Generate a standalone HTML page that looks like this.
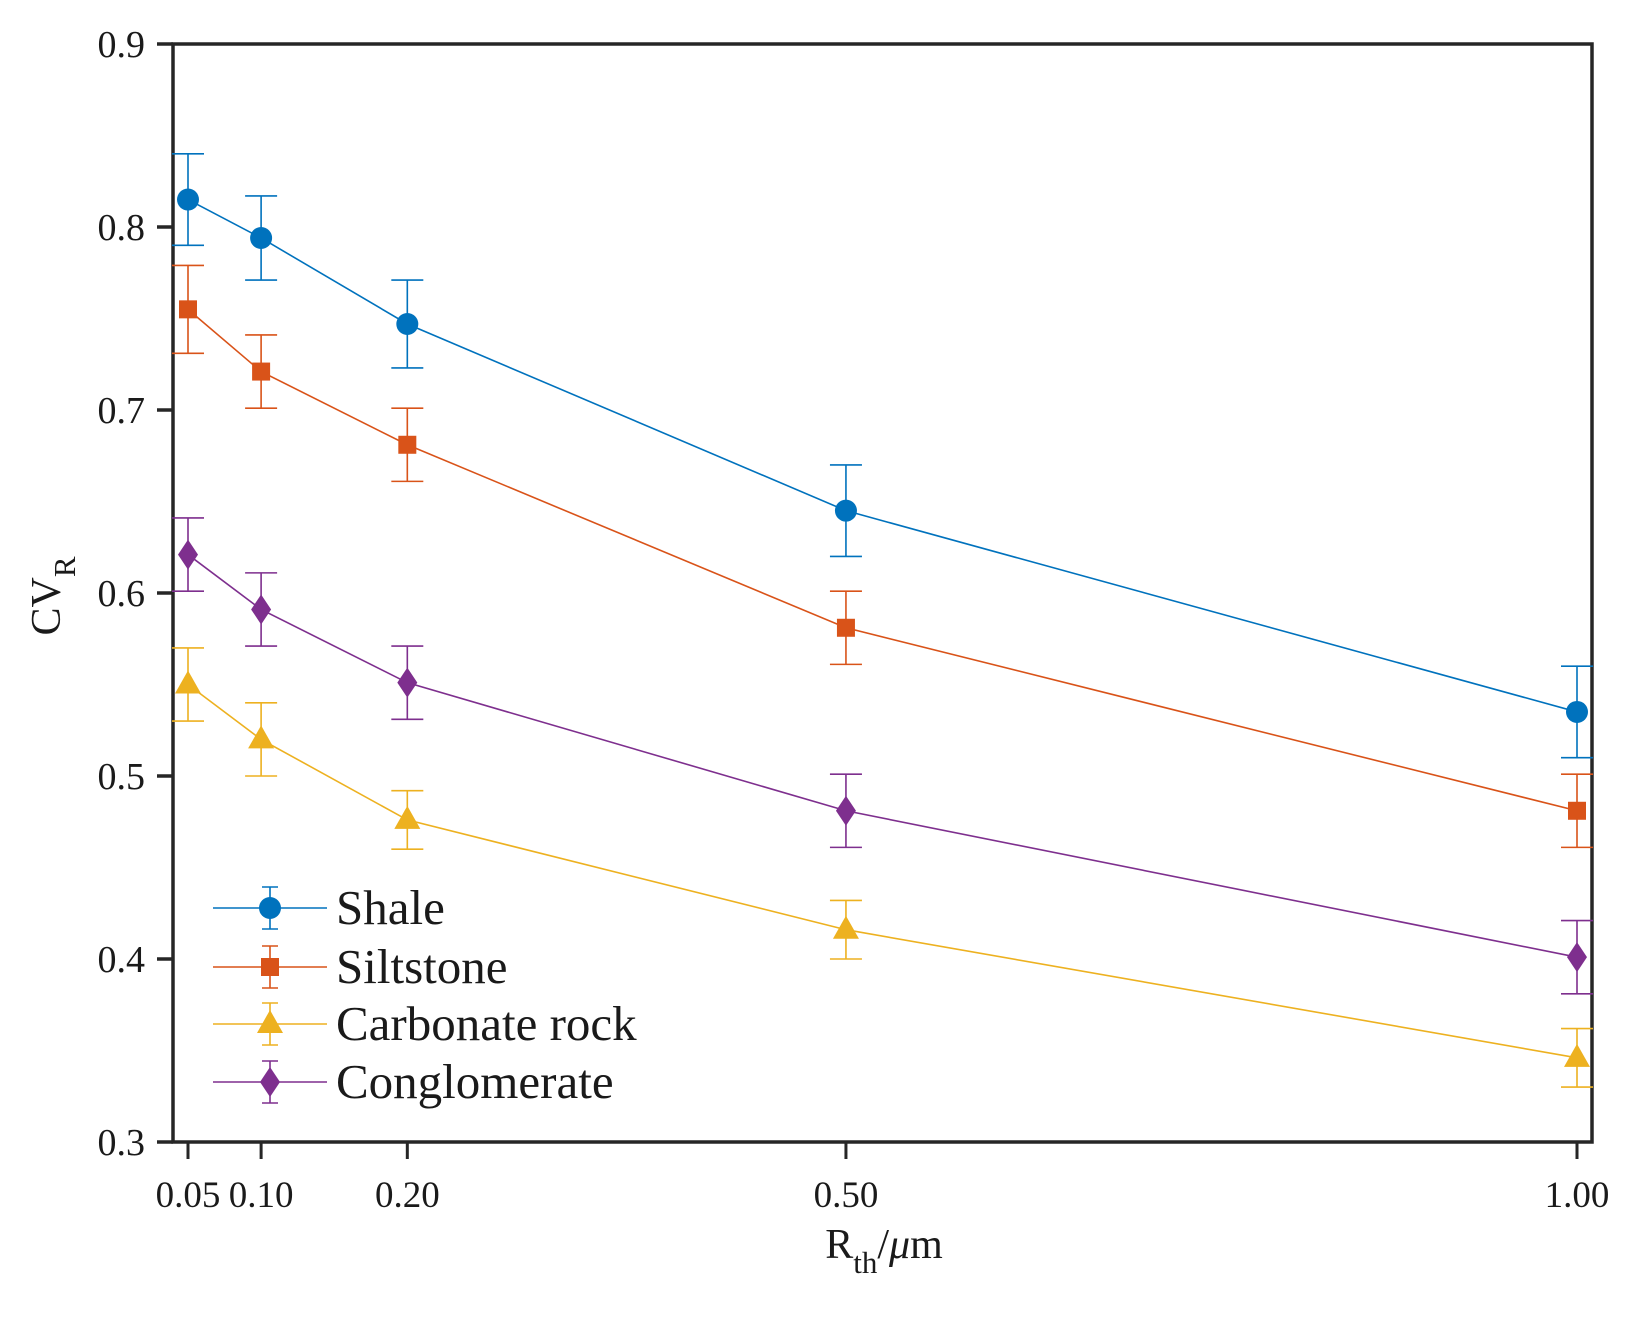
<!DOCTYPE html>
<html><head><meta charset="utf-8"><style>
html,body{margin:0;padding:0;background:#fff;}
svg text{font-family:"Liberation Serif",serif;fill:#1a1a1a;}
</style></head><body>
<svg id="chart" width="1639" height="1320" xmlns="http://www.w3.org/2000/svg">
<g id="axes"></g>
<g id="plot"></g>
<g id="legend"></g>
</svg>
<script>
const xCategories = [0.05, 0.10, 0.20, 0.50, 1.00];
const xTickLabels = ["0.05","0.10","0.20","0.50","1.00"];
const yTicks = [0.3,0.4,0.5,0.6,0.7,0.8,0.9];
const yTickLabels = ["0.3","0.4","0.5","0.6","0.7","0.8","0.9"];
const seriesNames = ["Shale","Siltstone","Carbonate rock","Conglomerate"];
const shaleValues = [0.815, 0.794, 0.747, 0.645, 0.535];
const shaleErrors = [0.025, 0.023, 0.024, 0.025, 0.025];
const siltstoneValues = [0.755, 0.721, 0.681, 0.581, 0.481];
const siltstoneErrors = [0.024, 0.020, 0.020, 0.020, 0.020];
const carbonateValues = [0.550, 0.520, 0.476, 0.416, 0.346];
const carbonateErrors = [0.020, 0.020, 0.016, 0.016, 0.016];
const conglomerateValues = [0.621, 0.591, 0.551, 0.481, 0.401];
const conglomerateErrors = [0.020, 0.020, 0.020, 0.020, 0.020];

const NS="http://www.w3.org/2000/svg";
const L=173,R=1592,T=44,B=1142;
const xPx0=188,xPx1=1577;
function xs(v){return xPx0+(v-0.05)/(1.0-0.05)*(xPx1-xPx0);}
function ys(v){return B-(v-0.3)/(0.9-0.3)*(B-T);}
function mk(tag,attrs,parent){const e=document.createElementNS(NS,tag);for(const k in attrs)e.setAttribute(k,attrs[k]);parent.appendChild(e);return e;}
const axes=document.getElementById('axes'),plot=document.getElementById('plot'),legend=document.getElementById('legend');

let frame=mk('rect',{x:L,y:T,width:R-L,height:B-T,fill:'none',stroke:'#262626','stroke-width':3.5},axes);


yTicks.forEach((v,i)=>{
  let t=mk('line',{x1:L-16,x2:L,y1:ys(v),y2:ys(v),stroke:'#262626','stroke-width':3.5},axes);
  
  
  let tx=mk('text',{x:L-28,y:ys(v)+13,'text-anchor':'end','font-size':38},axes);
  tx.textContent=yTickLabels[i];
  
  
});
xCategories.forEach((v,i)=>{
  let t=mk('line',{x1:xs(v),x2:xs(v),y1:B,y2:B+17,stroke:'#262626','stroke-width':3},axes);
  
  
  let tx=mk('text',{x:xs(v),y:1207,'text-anchor':'middle','font-size':37},axes);
  tx.textContent=xTickLabels[i];
  
  
});
let xl=mk('text',{x:884,y:1258,'text-anchor':'middle','font-size':42},axes);
xl.innerHTML='R<tspan font-size="31" dy="15">th</tspan><tspan dy="-15">/</tspan><tspan font-style="italic">μ</tspan>m';


let yl=mk('text',{x:0,y:0,'text-anchor':'middle','font-size':42,transform:'translate(60,596) rotate(-90)'},axes);
yl.innerHTML='CV<tspan font-size="31" dy="15">R</tspan>';



const colors=['#0072BD','#D95319','#EDB120','#7E2F8E'];
const shapes=['circle','square','triangle','diamond'];
function marker(shape,cx,cy,c,parent){
  if(shape==='circle')return mk('circle',{cx:cx,cy:cy,r:11,fill:c},parent);
  if(shape==='square')return mk('rect',{x:cx-9,y:cy-9,width:18,height:18,fill:c},parent);
  if(shape==='triangle')return mk('polygon',{points:`${cx},${cy-14} ${cx+13},${cy+9} ${cx-13},${cy+9}`,fill:c},parent);
  return mk('polygon',{points:`${cx},${cy-15} ${cx+10},${cy} ${cx},${cy+15} ${cx-10},${cy}`,fill:c},parent);
}
const allV=[shaleValues,siltstoneValues,carbonateValues,conglomerateValues];
const allE=[shaleErrors,siltstoneErrors,carbonateErrors,conglomerateErrors];
allV.forEach((vals,s)=>{
  const c=colors[s];
  const g=mk('g',{},plot);
  
  
  let pl=mk('polyline',{points:vals.map((v,i)=>xs(xCategories[i])+','+ys(v)).join(' '),fill:'none',stroke:c,'stroke-width':1.6},g);
  
  
  vals.forEach((v,i)=>{
    const x=xs(xCategories[i]),e=allE[s][i],y1=ys(v+e),y2=ys(v-e);
    let eb=mk('path',{d:`M${x},${y1}V${y2}M${x-16},${y1}H${x+16}M${x-16},${y2}H${x+16}`,stroke:c,'stroke-width':1.6,fill:'none'},g);
    
    
    let m=marker(shapes[s],x,ys(v),c,g);
    
    
  });
});
const legY=[908,967,1024,1082];
seriesNames.forEach((n,s)=>{
  const c=colors[s],y=legY[s];
  const g=mk('g',{},legend);
  
  
  mk('line',{x1:213,x2:327,y1:y,y2:y,stroke:c,'stroke-width':1.6},g);
  mk('path',{d:`M270,${y-21}V${y+21}M262,${y-21}H278M262,${y+21}H278`,stroke:c,'stroke-width':1.6,fill:'none'},g);
  marker(shapes[s],270,y,c,g);
  let t=mk('text',{x:336,y:y+16,'font-size':49},g);
  t.textContent=n;
});
</script>
</body></html>
